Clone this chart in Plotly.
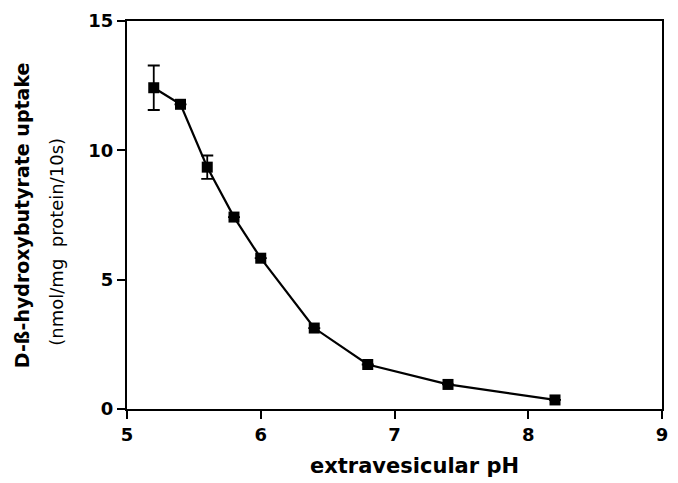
import plotly.graph_objects as go

ph = [5.2, 5.4, 5.6, 5.8, 6.0, 6.4, 6.8, 7.4, 8.2]
uptake = [12.42, 11.78, 9.35, 7.42, 5.83, 3.13, 1.72, 0.95, 0.35]
err = [0.86, 0.0, 0.45, 0.0, 0.0, 0.0, 0.0, 0.0, 0.0]

x_ticks = [5, 6, 7, 8, 9]
y_ticks = [0, 5, 10, 15]

FONT = "DejaVu Sans, Liberation Sans, Arial, sans-serif"

fig = go.Figure()
fig.add_trace(go.Scatter(
    x=ph, y=uptake, mode="lines+markers",
    line=dict(color="black", width=2.2),
    marker=dict(symbol="square", size=11, color="black"),
    error_y=dict(type="data", array=err, visible=True, color="black",
                 thickness=1.8, width=6),
    showlegend=False,
))

fig.update_layout(
    width=678, height=483,
    margin=dict(l=127, r=10, t=18, b=74),
    paper_bgcolor="white", plot_bgcolor="white",
    font=dict(family=FONT, color="black", size=16),
    xaxis=dict(range=[5, 9], tickvals=x_ticks, showgrid=False, zeroline=False,
               showline=True, linecolor="black", linewidth=2, mirror=True,
               ticks="outside", ticklen=8, tickwidth=1.5, tickcolor="black",
               tickfont=dict(size=18, family=FONT, weight="bold")),
    yaxis=dict(range=[0, 15], tickvals=y_ticks, showgrid=False, zeroline=False,
               showline=True, linecolor="black", linewidth=2, mirror=True,
               ticks="outside", ticklen=8, tickwidth=1.5, tickcolor="black",
               tickfont=dict(size=18, family=FONT, weight="bold")),
)

fig.add_annotation(text="<b>extravesicular pH</b>", xref="paper", yref="paper",
                   x=0.538, y=-0.146, showarrow=False,
                   xanchor="center", yanchor="middle", font=dict(size=21, family=FONT))
fig.add_annotation(text="<b>D-ß-hydroxybutyrate uptake</b>", xref="paper", yref="paper",
                   x=-0.196, y=0.5, textangle=-90, showarrow=False,
                   xanchor="center", yanchor="middle", font=dict(size=19, family=FONT))
fig.add_annotation(text="(nmol/mg  protein/10s)", xref="paper", yref="paper",
                   x=-0.131, y=0.431, textangle=-90, showarrow=False,
                   xanchor="center", yanchor="middle", font=dict(size=18, family=FONT))

fig.write_html("out.html")
